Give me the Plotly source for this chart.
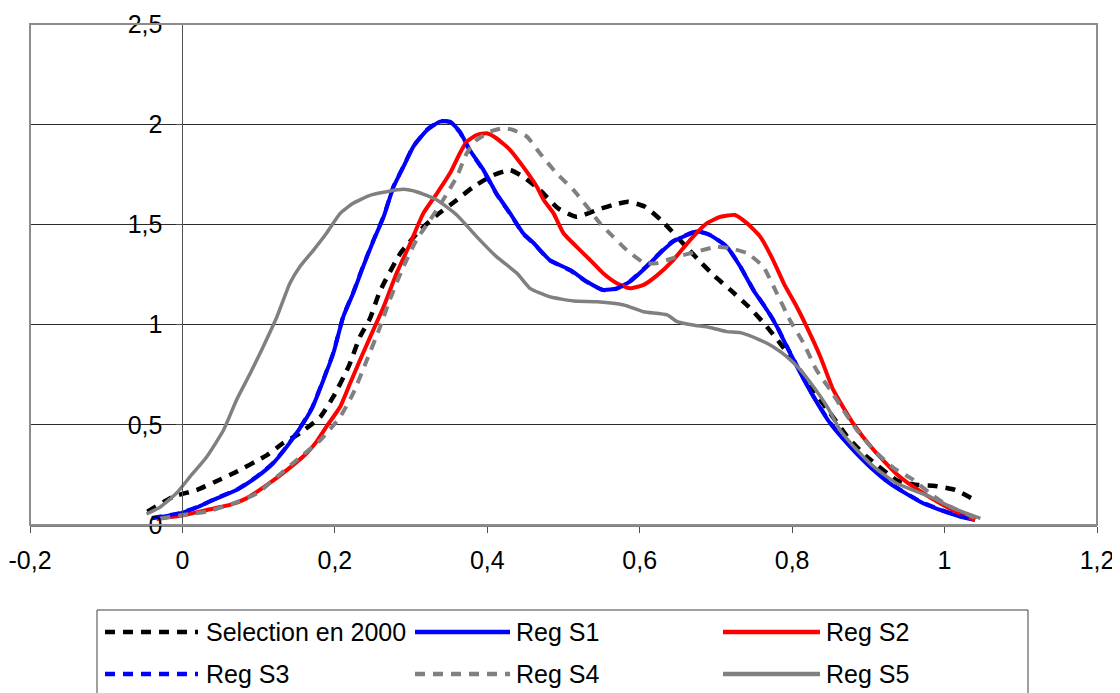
import plotly.graph_objects as go

# ---------------- data ----------------
sel_x = [-0.046, -0.012, 0.019, 0.043, 0.067, 0.111, 0.132, 0.154, 0.181, 0.198, 0.218, 0.233,
         0.246, 0.259, 0.286, 0.312, 0.334, 0.360, 0.382, 0.408, 0.430, 0.447, 0.469, 0.493,
         0.517, 0.544, 0.565, 0.585, 0.607, 0.629, 0.675, 0.699, 0.719, 0.743, 0.765, 0.786,
         0.810, 0.830, 0.850, 0.874, 0.898, 0.939, 0.964, 0.988, 1.014, 1.038]
sel_y = [0.066, 0.141, 0.175, 0.216, 0.258, 0.349, 0.408, 0.458, 0.540, 0.640, 0.790, 0.940,
         1.030, 1.165, 1.356, 1.472, 1.547, 1.622, 1.688, 1.746, 1.771, 1.738, 1.672, 1.580,
         1.538, 1.572, 1.597, 1.613, 1.588, 1.518, 1.331, 1.239, 1.173, 1.089, 0.998, 0.898,
         0.775, 0.660, 0.557, 0.433, 0.341, 0.220, 0.200, 0.195, 0.175, 0.128]

s1_x = [-0.040, -0.003, 0.021, 0.045, 0.071, 0.098, 0.119, 0.137, 0.154, 0.170, 0.185, 0.198,
        0.211, 0.224, 0.237, 0.251, 0.264, 0.277, 0.290, 0.303, 0.321, 0.338, 0.351, 0.364,
        0.377, 0.395, 0.412, 0.430, 0.447, 0.461, 0.482, 0.509, 0.531, 0.552, 0.570, 0.587,
        0.609, 0.631, 0.644, 0.675, 0.692, 0.714, 0.732, 0.749, 0.767, 0.780, 0.793, 0.811,
        0.828, 0.850, 0.876, 0.902, 0.929, 0.968, 0.994, 1.020, 1.040]
s1_y = [0.033, 0.058, 0.091, 0.133, 0.175, 0.241, 0.308, 0.391, 0.482, 0.582, 0.724, 0.857,
        1.039, 1.156, 1.289, 1.422, 1.538, 1.688, 1.788, 1.888, 1.971, 2.013, 2.013, 1.963,
        1.871, 1.771, 1.655, 1.555, 1.456, 1.406, 1.322, 1.272, 1.214, 1.173, 1.181, 1.214,
        1.289, 1.372, 1.414, 1.464, 1.447, 1.389, 1.289, 1.173, 1.073, 0.990, 0.890, 0.757,
        0.640, 0.507, 0.391, 0.291, 0.205, 0.116, 0.075, 0.042, 0.025]

s2_x = [-0.034, 0.001, 0.032, 0.062, 0.084, 0.111, 0.137, 0.163, 0.176, 0.189, 0.207, 0.220,
        0.233, 0.246, 0.264, 0.281, 0.299, 0.316, 0.334, 0.351, 0.364, 0.373, 0.386, 0.399,
        0.412, 0.430, 0.447, 0.465, 0.474, 0.487, 0.500, 0.517, 0.535, 0.552, 0.570, 0.587,
        0.605, 0.622, 0.644, 0.666, 0.688, 0.706, 0.725, 0.741, 0.758, 0.775, 0.789, 0.806,
        0.819, 0.837, 0.854, 0.880, 0.907, 0.937, 0.959, 0.994, 1.020, 1.040]
s2_y = [0.030, 0.048, 0.075, 0.100, 0.133, 0.200, 0.274, 0.358, 0.416, 0.491, 0.590, 0.707,
        0.823, 0.935, 1.089, 1.256, 1.406, 1.555, 1.655, 1.755, 1.855, 1.913, 1.946, 1.955,
        1.930, 1.871, 1.788, 1.688, 1.622, 1.555, 1.456, 1.389, 1.322, 1.256, 1.206, 1.181,
        1.198, 1.243, 1.322, 1.422, 1.505, 1.538, 1.547, 1.505, 1.439, 1.322, 1.206, 1.089,
        0.990, 0.840, 0.674, 0.507, 0.374, 0.255, 0.191, 0.108, 0.058, 0.025]

s3_x = [-0.040, -0.003, 0.021, 0.045, 0.071, 0.098, 0.119, 0.137, 0.154, 0.170, 0.185, 0.198,
        0.211, 0.224, 0.237, 0.251, 0.264, 0.277, 0.290, 0.303, 0.321, 0.338, 0.351, 0.364,
        0.377, 0.395, 0.412, 0.430, 0.447, 0.461, 0.482, 0.509, 0.531, 0.552, 0.570, 0.587,
        0.609, 0.631, 0.644, 0.675, 0.692, 0.714, 0.732, 0.749, 0.767, 0.780, 0.793, 0.811,
        0.828, 0.850, 0.876, 0.902, 0.929, 0.968, 0.994, 1.020, 1.040]
s3_y = [0.035, 0.060, 0.092, 0.135, 0.176, 0.243, 0.310, 0.393, 0.484, 0.585, 0.727, 0.860,
        1.042, 1.160, 1.292, 1.425, 1.541, 1.690, 1.790, 1.890, 1.973, 2.015, 2.010, 1.960,
        1.868, 1.768, 1.652, 1.552, 1.454, 1.404, 1.320, 1.270, 1.212, 1.172, 1.180, 1.216,
        1.292, 1.375, 1.417, 1.466, 1.448, 1.390, 1.290, 1.175, 1.075, 0.992, 0.892, 0.760,
        0.642, 0.510, 0.393, 0.293, 0.207, 0.118, 0.077, 0.044, 0.027]

s4_x = [-0.029, 0.001, 0.032, 0.067, 0.098, 0.124, 0.150, 0.181, 0.207, 0.224, 0.242, 0.259,
        0.272, 0.290, 0.307, 0.325, 0.342, 0.360, 0.373, 0.386, 0.404, 0.421, 0.434, 0.452,
        0.469, 0.491, 0.513, 0.531, 0.548, 0.565, 0.583, 0.605, 0.622, 0.649, 0.675, 0.701,
        0.719, 0.741, 0.762, 0.780, 0.797, 0.815, 0.832, 0.850, 0.867, 0.885, 0.907, 0.933,
        0.959, 0.981, 1.003, 1.042]
s4_y = [0.033, 0.050, 0.067, 0.108, 0.158, 0.241, 0.324, 0.424, 0.540, 0.657, 0.823, 0.985,
        1.123, 1.289, 1.422, 1.522, 1.622, 1.738, 1.855, 1.921, 1.963, 1.980, 1.971, 1.938,
        1.855, 1.755, 1.672, 1.588, 1.505, 1.439, 1.372, 1.310, 1.306, 1.339, 1.364, 1.389,
        1.381, 1.356, 1.289, 1.156, 1.023, 0.907, 0.773, 0.674, 0.574, 0.474, 0.374, 0.285,
        0.225, 0.158, 0.100, 0.033]

s5_x = [-0.047, -0.029, -0.008, 0.010, 0.032, 0.054, 0.071, 0.089, 0.106, 0.124, 0.141, 0.154,
        0.172, 0.189, 0.207, 0.224, 0.246, 0.268, 0.290, 0.307, 0.334, 0.360, 0.386, 0.412,
        0.439, 0.456, 0.482, 0.513, 0.544, 0.579, 0.605, 0.636, 0.649, 0.670, 0.692, 0.714,
        0.732, 0.758, 0.775, 0.793, 0.811, 0.828, 0.846, 0.863, 0.885, 0.907, 0.937, 0.981,
        1.012, 1.047]
s5_y = [0.055, 0.090, 0.158, 0.241, 0.341, 0.474, 0.624, 0.757, 0.890, 1.039, 1.206, 1.289,
        1.372, 1.456, 1.555, 1.605, 1.645, 1.663, 1.675, 1.663, 1.622, 1.547, 1.439, 1.339,
        1.256, 1.181, 1.139, 1.118, 1.114, 1.098, 1.064, 1.048, 1.015, 0.998, 0.986, 0.965,
        0.960, 0.923, 0.890, 0.840, 0.773, 0.690, 0.590, 0.474, 0.374, 0.291, 0.208, 0.141,
        0.083, 0.033]

series_names = ["Selection en 2000", "Reg S1", "Reg S2", "Reg S3", "Reg S4", "Reg S5"]
x_ticks = [-0.2, 0, 0.2, 0.4, 0.6, 0.8, 1, 1.2]
x_ticktext = ["-0,2", "0", "0,2", "0,4", "0,6", "0,8", "1", "1,2"]
y_ticks = [0, 0.5, 1, 1.5, 2, 2.5]
y_ticktext = ["0", "0,5", "1", "1,5", "2", "2,5"]

# ---------------- styles ----------------
styles = [
    dict(color="#000000", width=4.5, dash="10px,8px"),
    dict(color="#0000FF", width=4, dash="solid"),
    dict(color="#FF0000", width=4, dash="solid"),
    dict(color="#0000FF", width=4, dash="10px,8px"),
    dict(color="#808080", width=4, dash="10px,8px"),
    dict(color="#808080", width=3.5, dash="solid"),
]
xs = [sel_x, s1_x, s2_x, s3_x, s4_x, s5_x]
ys = [sel_y, s1_y, s2_y, s3_y, s4_y, s5_y]

# the page body has an 8px margin: figure sized so it fits the 1120x693 window
OFF = 8
W, H = 1120 - OFF, 693 - OFF
ML, MR, MT, MB = 30 - OFF, 23, 24 - OFF, 168
FONT = "Liberation Sans, Arial, sans-serif"
FS = 25

fig = go.Figure()
for name, x, y, st in zip(series_names, xs, ys, styles):
    fig.add_trace(go.Scatter(x=x, y=y, name=name, mode="lines",
                             line=dict(color=st["color"], width=st["width"], dash=st["dash"],
                                       shape="spline", smoothing=0.5),
                             showlegend=False, hoverinfo="skip"))

xmin, xmax = -0.2, 1.2
fig.update_layout(
    width=W, height=H,
    margin=dict(l=ML, r=MR, t=MT, b=MB, pad=0, autoexpand=False),
    paper_bgcolor="white", plot_bgcolor="white",
    font=dict(family=FONT, size=FS, color="black"),
    xaxis=dict(range=[xmin, xmax], tickvals=x_ticks, ticktext=x_ticktext,
               showgrid=False, zeroline=False, showline=True, linecolor="#808080",
               linewidth=2, ticks="outside", ticklen=6, tickcolor="#505050", tickwidth=1,
               ticklabelstandoff=6, tickfont=dict(size=FS), automargin=False),
    yaxis=dict(range=[0, 2.5], tickvals=y_ticks, ticktext=y_ticktext,
               anchor="free", position=(0 - xmin) / (xmax - xmin),
               showgrid=True, gridcolor="#2a2a2a", gridwidth=1, zeroline=False,
               showline=True, linecolor="#505050", linewidth=1,
               ticks="outside", ticklen=6, tickcolor="#505050", tickwidth=1,
               ticklabelstandoff=9, tickfont=dict(size=FS), automargin=False),
)

# plot-area border
fig.add_shape(type="rect", xref="paper", yref="paper", x0=0, x1=1, y0=0, y1=1,
              line=dict(color="#8c8c8c", width=2), layer="above")

# ---------------- custom legend (box, sample lines, labels) ----------------
pw = W - ML - MR
ph = H - MT - MB


def px_x(px):
    # page pixel -> paper coordinate
    return (px - OFF - ML) / pw


def px_y(py):
    return (H - MB - (py - OFF)) / ph


fig.add_shape(type="rect", xref="paper", yref="paper",
              x0=px_x(97), x1=px_x(1028), y0=px_y(730), y1=px_y(610),
              line=dict(color="#404040", width=1), fillcolor="white", layer="above")

col_line = [(105, 198), (415, 510), (723, 820)]
col_text = [207, 517, 827]
row_y = [632, 674]
for i, (name, st) in enumerate(zip(series_names, styles)):
    r, c = divmod(i, 3)
    x0, x1 = col_line[c]
    fig.add_shape(type="line", xref="paper", yref="paper",
                  x0=px_x(x0), x1=px_x(x1), y0=px_y(row_y[r]), y1=px_y(row_y[r]),
                  line=dict(color=st["color"], width=4.5, dash=st["dash"]), layer="above")
    fig.add_annotation(xref="paper", yref="paper", x=px_x(col_text[c] - 3), y=px_y(row_y[r]),
                       text=name, showarrow=False, xanchor="left", yanchor="middle",
                       font=dict(family=FONT, size=FS, color="black"))

fig.write_html("out.html")
